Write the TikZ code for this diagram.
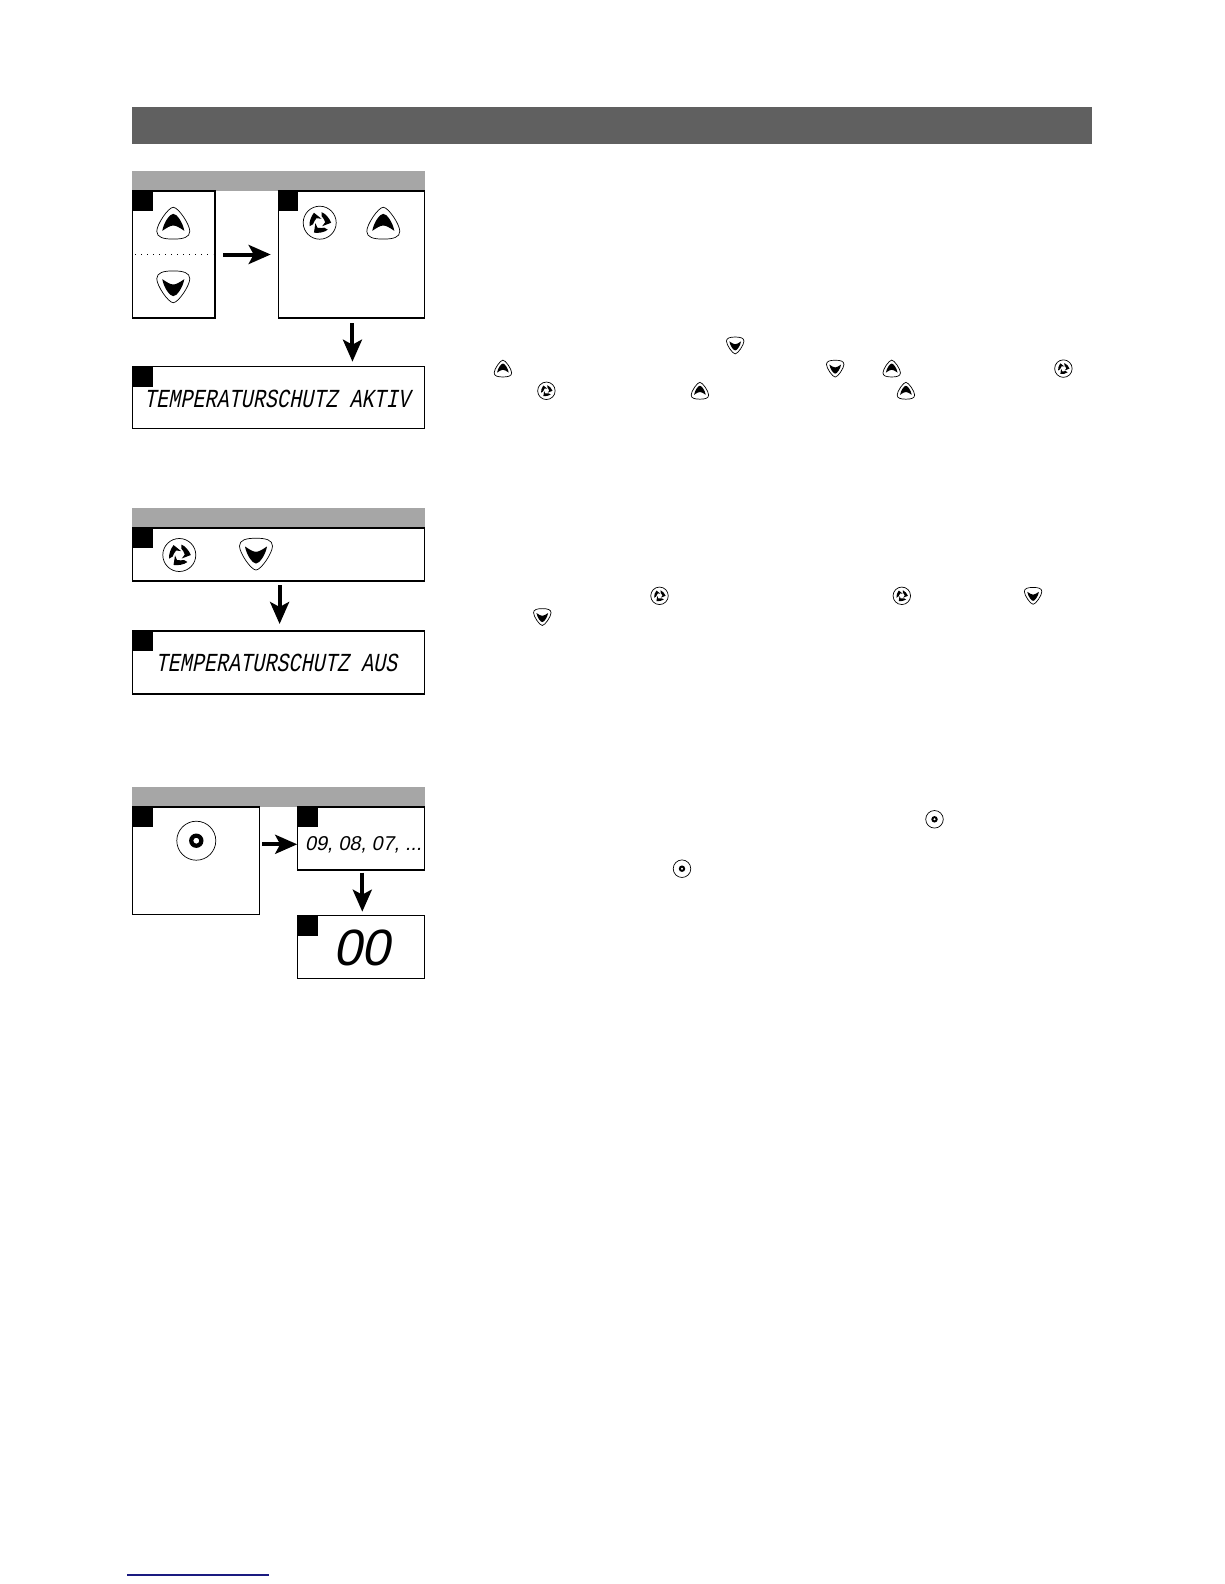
\documentclass[tikz,border=0pt]{standalone}
\usepackage{fontspec}
\usetikzlibrary{arrows.meta}
\newfontfamily\lcdmono[FakeSlant=0.2,FakeStretch=0.775]{Liberation Mono}
\newfontfamily\lcdsans[FakeSlant=0.2]{Liberation Sans}
\definecolor{headgray}{HTML}{606060}
\definecolor{bargray}{HTML}{A6A6A6}
\definecolor{footblue}{HTML}{1A1A80}
\newcommand{\chevronshape}{%
  \draw[line width=.7pt,fill=white] (0,-16) .. controls (5,-16) and (16.5,1) .. (16.5,8) .. controls (16.5,14) and (10,15.8) .. (0,15.8) .. controls (-10,15.8) and (-16.5,14) .. (-16.5,8) .. controls (-16.5,1) and (-5,-16) .. (0,-16) -- cycle;
  \fill (0,-9.5) .. controls (3.5,-9.5) and (9.5,-1) .. (11,7.5) .. controls (6.5,4.5) and (3,2.2) .. (0,2.2) .. controls (-3,2.2) and (-6.5,4.5) .. (-11,7.5) .. controls (-9.5,-1) and (-3.5,-9.5) .. (0,-9.5) -- cycle;
}
\tikzset{
  sheetbox/.style={draw=black,line width=1.3pt,fill=white,inner sep=0pt,outer sep=0pt,anchor=north west},
  tagbox/.style={fill=black,minimum width=20pt,minimum height=20pt,inner sep=0pt,outer sep=0pt,anchor=north west},
  barbox/.style={fill=bargray,minimum height=20pt,inner sep=0pt,outer sep=0pt,anchor=north west},
  flowarrow/.style={line width=4pt,-{Stealth[length=22pt,width=19pt,inset=5pt]}},
  lcdtext/.style={inner sep=0pt,outer sep=0pt,anchor=west,text=black},
  pics/upbtn/.style={code={\chevronshape}},
  pics/downbtn/.style={code={\begin{scope}[yscale=-1]\chevronshape\end{scope}}},
  pics/swirlbtn/.style={code={
    \draw[line width=.7pt,fill=white] (0,0) circle[radius=16.5];
    \foreach \a in {0,120,240}{
      \fill[rotate=\a] (2,-10.5) .. controls (6,-9) and (10,-4) .. (11.5,0) -- (2.5,3.5) -- (5.5,-.5) .. controls (4.5,-3) and (3.5,-5) .. (2,-6.5) -- cycle;
    }
  }},
  pics/discbtn/.style={code={
    \draw[line width=.7pt,fill=white] (0,0) circle[radius=19.5];
    \fill[even odd rule] (0,0) circle[radius=7.2] (0,0) circle[radius=3];
  }},
}
\begin{document}
\begin{tikzpicture}[x=1pt,y=-1pt]
\useasboundingbox (0,0) rectangle (1224,1584);
\fill[white] (0,0) rectangle (1224,1584);
% header
\node[fill=headgray,minimum width=960pt,minimum height=37pt,inner sep=0pt,anchor=north west] (head) at (132,107) {};
% section 1
\node[barbox,minimum width=293pt] (bara) at (132,171) {};
\node[sheetbox,minimum width=82.5pt,minimum height=127pt] (aone) at (132.5,191) {};
\node[sheetbox,minimum width=146.5pt,minimum height=127pt] (atwo) at (278.2,191) {};
\node[sheetbox,minimum width=292.2pt,minimum height=62pt] (athree) at (132.5,366.7) {};
\node[tagbox] (taga) at (aone.north west) {};
\node[tagbox] (tagb) at (atwo.north west) {};
\node[tagbox] (tagc) at (athree.north west) {};
\pic at (173.3,223.3) {upbtn};
\pic at (173.3,286.7) {downbtn};
\coordinate (dotl) at (135,254.7);
\coordinate (dotr) at (213,254.7);
\draw[line width=1.3pt,dash pattern=on 1.3pt off 4.7pt] (dotl) -- (dotr);
\pic at (319.7,222.7) {swirlbtn};
\pic at (383.3,223.3) {upbtn};
\node[lcdtext] (lcda) at (144,398.5) {\lcdmono\fontsize{26}{26}\selectfont TEMPERATURSCHUTZ AKTIV};
\draw[flowarrow,shorten <=8pt,shorten >=7.5pt] (aone.east) -- (atwo.west);
\draw[flowarrow,shorten <=5pt,shorten >=5pt] ([xshift=1pt]atwo.south) -- ([xshift=1pt]atwo.south |- athree.north);
% section 2
\node[barbox,minimum width=293pt] (barb) at (132,508) {};
\node[sheetbox,minimum width=292.2pt,minimum height=53pt] (bone) at (132.5,528) {};
\node[sheetbox,minimum width=292.2pt,minimum height=63pt] (btwo) at (132.5,631) {};
\node[tagbox] (tagd) at (bone.north west) {};
\node[tagbox] (tage) at (btwo.north west) {};
\pic at (179.3,555) {swirlbtn};
\pic at (256,554) {downbtn};
\node[lcdtext] (lcdb) at (155.5,662.5) {\lcdmono\fontsize{26}{26}\selectfont TEMPERATURSCHUTZ AUS};
\draw[flowarrow,shorten <=4pt,shorten >=7pt] ([xshift=1pt]bone.south) -- ([xshift=1pt]bone.south |- btwo.north);
% section 3
\node[barbox,minimum width=293pt] (barc) at (132,787) {};
\node[sheetbox,minimum width=127pt,minimum height=107.5pt] (cone) at (132.5,807) {};
\node[sheetbox,minimum width=127pt,minimum height=63pt] (ctwo) at (297.7,807) {};
\node[sheetbox,minimum width=127pt,minimum height=62.6pt] (cthree) at (297.7,915.7) {};
\node[tagbox] (tagf) at (cone.north west) {};
\node[tagbox] (tagg) at (ctwo.north west) {};
\node[tagbox] (tagh) at (cthree.north west) {};
\pic at (196.3,840.7) {discbtn};
\node[lcdtext] (lcdc) at (305,844.5) {\lcdsans\fontsize{20}{20}\selectfont 09, 08, 07, ...};
\node[lcdtext] (lcdd) at (333,947.5) {\lcdsans\fontsize{51}{51}\selectfont 00};
\coordinate (arrl) at (262.3,844.3);
\coordinate (arrr) at (297.2,844.3);
\draw[flowarrow] (arrl) -- (arrr);
\coordinate (arrt) at (362.3,872.7);
\coordinate (arrb) at (362.3,911.7);
\draw[flowarrow] (arrt) -- (arrb);
% inline icons
\pic[scale=.53] at (735.2,345.4) {downbtn};
\pic[scale=.53] at (502.9,368.6) {upbtn};
\pic[scale=.53] at (835.2,368.6) {downbtn};
\pic[scale=.53] at (891.7,368.6) {upbtn};
\pic[scale=.53] at (1063.4,368.6) {swirlbtn};
\pic[scale=.53] at (546.4,390.8) {swirlbtn};
\pic[scale=.53] at (699.9,390.8) {upbtn};
\pic[scale=.53] at (905.9,390.8) {upbtn};
\pic[scale=.53] at (659.5,595.8) {swirlbtn};
\pic[scale=.53] at (901.8,595.8) {swirlbtn};
\pic[scale=.53] at (1033.1,595.8) {downbtn};
\pic[scale=.53] at (542.3,617) {downbtn};
\pic[scale=.45] at (934.5,819.3) {discbtn};
\pic[scale=.45] at (682,868.7) {discbtn};
% footer rule
\coordinate (footl) at (127,1575);
\coordinate (footr) at (269,1575);
\draw[footblue,line width=1.2pt] (footl) -- (footr);
\end{tikzpicture}
\end{document}
